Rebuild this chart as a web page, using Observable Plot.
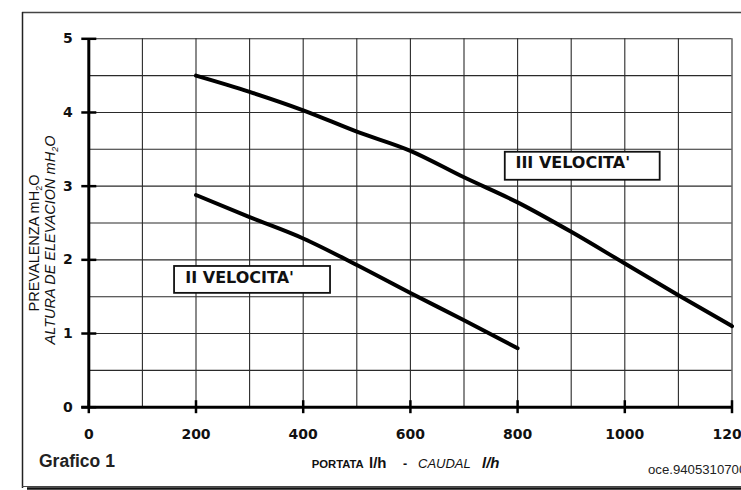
<!DOCTYPE html>
<html><head><meta charset="utf-8">
<script src="https://cdn.jsdelivr.net/npm/d3@7"></script>
<script src="https://cdn.jsdelivr.net/npm/@observablehq/plot@0.6"></script>
<style>
html,body{margin:0;padding:0;background:#fff;overflow:hidden;}
#chart{width:741px;height:490px;overflow:hidden;}
</style>
</head><body><div id="chart"></div>
<script>
// Tick / grid values
const xTicks = [0, 200, 400, 600, 800, 1000, 1200];
const yTicks = [0, 1, 2, 3, 4, 5];
const xGrid = [100, 200, 300, 400, 500, 600, 700, 800, 900, 1000, 1100, 1200];
const yGrid = [0.5, 1, 1.5, 2, 2.5, 3, 3.5, 4, 4.5, 5];

// Series: flow (l/h) vs head (m H2O)
const flowIII = [200, 300, 400, 500, 600, 700, 800, 900, 1000, 1100, 1200];
const headIII = [4.5, 4.28, 4.03, 3.74, 3.48, 3.12, 2.78, 2.38, 1.95, 1.52, 1.1];
const flowII = [200, 300, 400, 500, 600, 700, 800];
const headII = [2.88, 2.58, 2.29, 1.93, 1.55, 1.18, 0.8];

// Curve labels (text, anchor in data units, box extent in data units)
const labelText = ["III VELOCITA'", "II VELOCITA'"];
const labelX = [796, 180];
const labelY = [3.315, 1.761];
const boxX1 = [777, 160];
const boxX2 = [1066, 451];
const boxY1 = [3.08, 1.545];
const boxY2 = [3.46, 1.91];

const seriesIII = flowIII.map((f, i) => ({flow: f, head: headIII[i]}));
const seriesII = flowII.map((f, i) => ({flow: f, head: headII[i]}));
const labels = labelText.map((t, i) => ({label: t, tx: labelX[i], ty: labelY[i],
  x1: boxX1[i], x2: boxX2[i], y1: boxY1[i], y2: boxY2[i]}));

const plot = Plot.plot({
  width: 741, height: 490,
  marginLeft: 88.3, marginRight: 9.5, marginTop: 38.3, marginBottom: 83.3,
  style: {fontFamily: "DejaVu Sans", fontWeight: "bold", fontSize: "14px", background: "white", color: "#111"},
  x: {domain: [0, 1200]},
  y: {domain: [0, 5]},
  marks: [
    Plot.ruleX(xGrid, {stroke: "#2a2a2a", strokeWidth: 1.1}),
    Plot.ruleY(yGrid, {stroke: "#2a2a2a", strokeWidth: 1.1}),
    Plot.rect(labels, {x1: "x1", x2: "x2", y1: "y1", y2: "y2", fill: "white", stroke: "#111", strokeWidth: 1.8}),
    Plot.text(labels, {x: "tx", y: "ty", text: "label", textAnchor: "start", fontSize: 16, fontWeight: "bold", fill: "#111"}),
    Plot.ruleX([0], {stroke: "#000", strokeWidth: 3}),
    Plot.ruleY([0], {stroke: "#000", strokeWidth: 3, insetLeft: -7}),
    Plot.ruleX(xTicks, {y1: 0, y2: 0, insetTop: -6.5, insetBottom: -6.5, stroke: "#000", strokeWidth: 2.5}),
    Plot.ruleY(yTicks, {x1: 0, x2: 0, insetLeft: -7, insetRight: -8, stroke: "#000", strokeWidth: 2.5}),
    Plot.axisX(xTicks, {tickSize: 0, tickPadding: 22, label: null, tickFormat: d => String(d)}),
    Plot.axisY(yTicks, {tickSize: 0, tickPadding: 16, label: null, tickFormat: d => String(d)}),
    Plot.line(seriesIII, {x: "flow", y: "head", curve: "monotone-x", stroke: "#000", strokeWidth: 4}),
    Plot.line(seriesII, {x: "flow", y: "head", curve: "monotone-x", stroke: "#000", strokeWidth: 4})
  ]
});

const svg = d3.select(plot);
const sans = "'Liberation Sans', Arial, sans-serif";
// outer frame + drop shadow
svg.append("line").attr("x1", 22).attr("x2", 741).attr("y1", 12.5).attr("y2", 12.5)
  .attr("stroke", "#444").attr("stroke-width", 1.3);
svg.append("line").attr("x1", 22.5).attr("x2", 22.5).attr("y1", 12).attr("y2", 488)
  .attr("stroke", "#222").attr("stroke-width", 1.5);
svg.append("line").attr("x1", 22).attr("x2", 741).attr("y1", 486.5).attr("y2", 486.5)
  .attr("stroke", "#444").attr("stroke-width", 1);
svg.append("line").attr("x1", 27).attr("x2", 741).attr("y1", 488.5).attr("y2", 488.5)
  .attr("stroke", "#111").attr("stroke-width", 2.5);

// Y axis title (two lines, rotated)
function yTitle(tx, ty, main, italic) {
  const t = svg.append("text").attr("transform", `translate(${tx},${ty}) rotate(-90)`)
    .attr("text-anchor", "middle")
    .style("font-family", sans)
    .style("font-weight", "normal").style("font-size", "14.5px")
    .style("font-style", italic ? "italic" : "normal").attr("fill", "#111");
  t.append("tspan").text(main);
  t.append("tspan").attr("dy", 3).style("font-size", "9px").text("2");
  t.append("tspan").attr("dy", -3).text("O");
}
yTitle(39, 243, "PREVALENZA mH", false);
yTitle(55, 240, "ALTURA DE ELEVACION mH", true);

// X axis title
const xt = svg.append("text").attr("y", 468).attr("text-anchor", "start")
  .style("font-family", sans).attr("fill", "#111");
xt.append("tspan").attr("x", 311.7).style("font-weight", "bold").style("font-size", "11.3px").text("PORTATA");
xt.append("tspan").attr("x", 369).style("font-weight", "bold").style("font-size", "15px").text("l/h");
xt.append("tspan").attr("x", 403).style("font-weight", "bold").style("font-size", "12.5px").text("-");
xt.append("tspan").attr("x", 418).style("font-style", "italic").style("font-weight", "normal").style("font-size", "13px").text("CAUDAL");
xt.append("tspan").attr("x", 482).style("font-style", "italic").style("font-weight", "bold").style("font-size", "15px").text("l/h");

// Caption texts
svg.append("text").attr("x", 39).attr("y", 467).attr("text-anchor", "start")
  .style("font-family", sans).style("font-weight", "bold")
  .style("font-size", "17.5px").attr("fill", "#222").text("Grafico 1");
svg.append("text").attr("x", 648).attr("y", 474).attr("text-anchor", "start")
  .style("font-family", sans).style("font-weight", "normal")
  .style("font-size", "13.2px").attr("fill", "#222").text("oce.9405310700");

document.getElementById("chart").appendChild(plot);
</script>
</body></html>
